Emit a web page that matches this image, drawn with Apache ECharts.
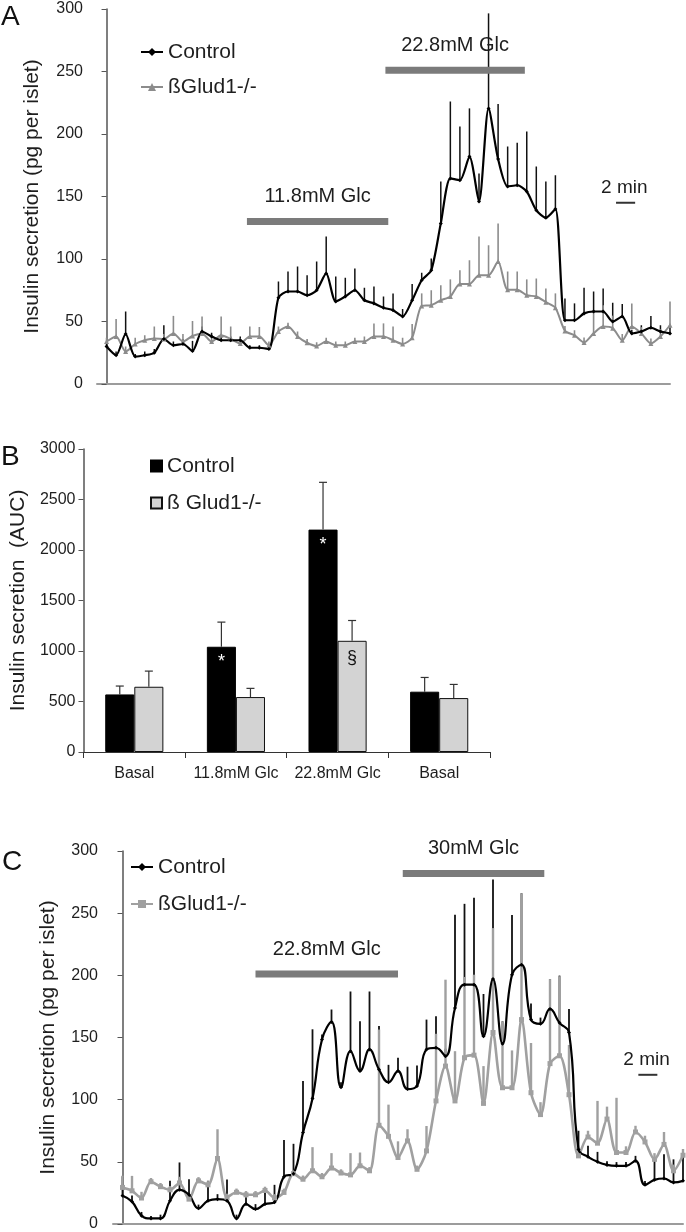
<!DOCTYPE html>
<html><head><meta charset="utf-8">
<script src="https://cdn.jsdelivr.net/npm/echarts@6/dist/echarts.min.js"></script>
<style>html,body{margin:0;padding:0;background:#fff}#c{width:686px;height:1232px}</style>
</head><body><div id="c"></div>
<script>
// ---------- Panel A (time course, 1 point per minute) ----------
const ctrlA = [30,23,40,22,23,25,36,31,32,26.5,42,38,35,35,35,29,29,28,69,74,74,71,75,88.5,66,70,75,67,64.5,61,59,54,67,83,91,128.5,164.5,163,182,146,220.5,180,158,159,154,139,133,140,51,51,56.5,58,58,50,54,40.5,42,45,42,40.5];
const ctrlErrA = [2,3,18,2,3,3,11,3,4,8,4,3,3,3,3,2,2,2,13,16,20,16,23,29.5,20,15,17.5,10,13.5,9,13.5,6,13,6,9.5,33.5,61.5,43,38.5,22.5,76,44,32,34,48,35,29,27,17.5,13.5,20.5,16,18.5,15,10,3,5,9.4,5,5];
const koA = [34,38,26,32,35,36.5,36,40.5,34,38.4,40.5,34,39,36,32.5,38,38,31,42,46,38,33,30.4,34,31,31,34,34,38,38,35,32,37,62.5,63,67,70,80,80,87,87,98,75.5,75.5,71,70,65.5,61,42.5,39,33.3,40.5,46,44.7,35,46,40.5,32.5,38,47];
const koErrA = [3,14,4,5,4,9.5,4,14,6,12,13.5,4,15,10,4,8,7.6,3,4,3,4,3,3,3,3,3,3,4,10.5,10.5,11,5,11,10,12,12,13.7,11,19,31,24,30.5,14.5,14.5,12.7,14.4,11,11.5,4,4,4,18.5,17,10,5,18.5,5,4,6,19];
const stimLabelA = ['11.8mM Glc','22.8mM Glc'];
const stimStartA = [14.7, 29.2];
const stimEndA = [29.5, 43.8];
const stimLevelA = [130, 251];
const scaleBarA = [53.35, 55.35, 145];
const yTicksA = [0, 300, 50];

// ---------- Panel B (AUC) ----------
const catsB = ['Basal','11.8mM Glc','22.8mM Glc','Basal'];
const ctrlAUC = [570, 1042, 2202, 597];
const ctrlAUCErr = [83, 244, 468, 141];
const koAUC = [646, 544, 1101, 534];
const koAUCErr = [155, 86, 201, 135];
const ctrlMark = ['', '*', '*', ''];
const koMark = ['', '', '§', ''];
const yTicksB = [0, 3000, 500];

// ---------- Panel C (time course) ----------
const ctrlC = [22.7,18,6.7,4.5,4.5,18.7,27.5,23.5,12.6,18.7,20,18.7,4.5,16,12,16,17.5,38,40.5,73.5,101,148.4,162.5,110,139,123,140.4,124.3,114,123,108.5,111,140.4,141.7,135,173.8,192.5,192.5,151,197,145,200.5,208.5,164.4,161,173,161.8,154,60,54,50,47.5,46.8,46.8,50.8,31.5,35.5,36.6,33.4,34.7];
const ctrlErrC = [15.6,5,3,2,3,16,22,12.5,3,16,4,17,3,5.6,4,9.4,14,29.6,24,41.5,55.6,4,10,4,48,40,46.6,35,14,10.7,18,16.5,24,25.3,6,75,65,70,34,80,18,48,57.5,13,5,24,38,19,15,9,8,3,3,3,4,3,16.5,19.4,18.6,23];
const koC = [29.4,26.7,20.9,34,30,27.5,33,20,34.7,31.5,52.7,21.4,25.5,23.5,23.5,27,21,25.4,40.5,36,42.8,38,45,41,39.5,46.8,42.8,79.4,70.5,53.5,66.8,44,58.8,99,127,99,133.7,135.8,97,154,109.6,109.6,164.4,105.6,88,129,135.3,104,54.8,70,65,84.4,57.5,57.5,74,66,52,64,42.8,55.3];
const koErrC = [9.4,12,5,3,3,3,5,3,3,3,23.5,3,3,3,3,3,3,3,3,3,19,3,12,3,17.5,10.7,3,77,25.5,13,9.4,3,20,54,69.5,40,65,64.7,30,84,53.4,30,101.6,40,10,68,64,40,5,5,34,10,44,5,5,5,5,10,5,5];
const stimLabelC = ['22.8mM Glc','30mM Glc'];
const stimStartC = [14.0, 29.5];
const stimEndC = [29.0, 44.4];
const stimLevelC = [201, 282];
const scaleBarC = [54.3, 56.3, 120];
const yTicksC = [0, 300, 50];

const FONT = '"Liberation Sans", Arial, sans-serif';
const TXT = '#1e1e1e';
const chart = echarts.init(document.getElementById('c'));

const xy = arr => arr.map((v, i) => [i, v]);
const errData = (m, e) => m.map((v, i) => [i, v, v + e[i]]);

function errSeries(grid, mean, err, color, width) {
  return {
    type: 'custom', xAxisIndex: grid, yAxisIndex: grid, silent: true,
    data: errData(mean, err), encode: {x: 0, y: [1, 2]},
    renderItem: (p, api) => {
      const a = api.coord([api.value(0), api.value(1)]);
      const b = api.coord([api.value(0), api.value(2)]);
      return {type: 'line', shape: {x1: a[0], y1: a[1], x2: b[0], y2: b[1]}, style: {stroke: color, lineWidth: width}};
    }
  };
}
function stimSeries(grid, labels, st, en, lv) {
  return {
    type: 'custom', xAxisIndex: grid, yAxisIndex: grid, silent: true,
    data: st.map((s, i) => [s, en[i], lv[i]]), encode: {x: [0, 1], y: 2},
    renderItem: (p, api) => {
      const s = api.coord([api.value(0), api.value(2)]);
      const e = api.coord([api.value(1), api.value(2)]);
      return {type: 'group', children: [
        {type: 'rect', shape: {x: s[0], y: s[1] - 3.5, width: e[0] - s[0], height: 7}, style: {fill: '#7b7b7b'}},
        {type: 'text', style: {text: labels[p.dataIndex], x: (s[0] + e[0]) / 2, y: s[1] - 25, align: 'center', verticalAlign: 'middle', fontSize: 20, fontFamily: FONT, fill: TXT}}
      ]};
    }
  };
}
function scaleSeries(grid, sb) {
  return {
    type: 'custom', xAxisIndex: grid, yAxisIndex: grid, silent: true,
    data: [sb], encode: {x: [0, 1], y: 2},
    renderItem: (p, api) => {
      const s = api.coord([api.value(0), api.value(2)]);
      const e = api.coord([api.value(1), api.value(2)]);
      return {type: 'group', children: [
        {type: 'line', shape: {x1: s[0], y1: s[1], x2: e[0], y2: e[1]}, style: {stroke: '#333', lineWidth: 2}},
        {type: 'text', style: {text: '2 min', x: s[0] - 15, y: s[1] - 15, align: 'left', verticalAlign: 'middle', fontSize: 19, fontFamily: FONT, fill: TXT}}
      ]};
    }
  };
}
function bErrSeries(mean, err, side) {
  return {
    type: 'custom', xAxisIndex: 1, yAxisIndex: 1, silent: true, z: 5,
    data: errData(mean, err), encode: {x: 0, y: [1, 2]},
    renderItem: (p, api) => {
      const w = api.size([1, 0])[0];
      const a = api.coord([api.value(0), api.value(1)]);
      const b = api.coord([api.value(0), api.value(2)]);
      const x = a[0] + side * 0.143 * w;
      return {type: 'group', children: [
        {type: 'line', shape: {x1: x, y1: a[1], x2: x, y2: b[1]}, style: {stroke: '#333', lineWidth: 1.2}},
        {type: 'line', shape: {x1: x - 4, y1: b[1], x2: x + 4, y2: b[1]}, style: {stroke: '#333', lineWidth: 1.2}}
      ]};
    }
  };
}
function timeX(grid) {
  return {gridIndex: grid, type: 'value', min: -1, max: 59,
    axisLine: {show: true, lineStyle: {color: '#9c9c9c', width: 2}},
    axisTick: {show: false}, axisLabel: {show: false}, splitLine: {show: false}};
}
function valY(grid, t, name, gap, margin, nameSize) {
  return {gridIndex: grid, type: 'value', min: t[0], max: t[1], interval: t[2],
    axisLine: {show: true, lineStyle: {color: '#555', width: 1.5}},
    axisTick: {show: true, length: 5, lineStyle: {color: '#555'}},
    axisLabel: {fontSize: 16, color: TXT, margin: margin, fontFamily: FONT, formatter: v => String(v)},
    splitLine: {show: false},
    name: name, nameLocation: 'middle', nameGap: gap, nameRotate: 90,
    nameTextStyle: {fontSize: nameSize, color: TXT, fontFamily: FONT}};
}
function legendOf(names, left, top, gap, icon, w, h) {
  return {data: names, left: left, top: top, orient: 'vertical', itemGap: gap, padding: 0,
    itemWidth: w, itemHeight: h, icon: icon, selectedMode: false,
    formatter: n => n.slice(2),
    textStyle: {fontSize: 21, color: TXT, fontFamily: FONT, lineHeight: 22}};
}

const option = {
  animation: false,
  backgroundColor: '#fff',
  textStyle: {fontFamily: FONT},
  grid: [
    {left: 97, top: 9, width: 573, height: 375},
    {left: 72, top: 449, width: 418, height: 303},
    {left: 113, top: 851, width: 570, height: 374}
  ],
  xAxis: [
    timeX(0),
    {gridIndex: 1, type: 'category', data: catsB,
      axisLine: {lineStyle: {color: '#333', width: 1.2}},
      axisTick: {show: true, length: 6, lineStyle: {color: '#333'}},
      axisLabel: {fontSize: 16, color: TXT, margin: 14, fontFamily: FONT, interval: 0, hideOverlap: false}},
    timeX(2)
  ],
  yAxis: [
    valY(0, yTicksA, 'Insulin secretion (pg per islet)', 54, 14, 21),
    valY(1, yTicksB, 'Insulin secretion  (AUC)', 44, 8, 21),
    valY(2, yTicksC, 'Insulin secretion (pg per islet)', 54, 15, 21)
  ],
  legend: [
    legendOf(['A:Control', 'A:ßGlud1-/-'], 140, 41, 13, undefined, 22, 10),
    legendOf(['B:Control', 'B:ß Glud1-/-'], 150, 455, 15, 'rect', 11, 11),
    legendOf(['C:Control', 'C:ßGlud1-/-'], 130, 856, 15, undefined, 22, 10)
  ],
  graphic: [
    {type: 'text', left: 1, top: 3, style: {text: 'A', fontSize: 28, fill: '#111', fontFamily: FONT}},
    {type: 'text', left: 1, top: 443, style: {text: 'B', fontSize: 28, fill: '#111', fontFamily: FONT}},
    {type: 'text', left: 2, top: 848, style: {text: 'C', fontSize: 28, fill: '#111', fontFamily: FONT}}
  ],
  series: [
    // Panel A
    errSeries(0, ctrlA, ctrlErrA, '#111', 1.5),
    errSeries(0, koA, koErrA, '#8c8c8c', 1.6),
    {type: 'line', name: 'A:ßGlud1-/-', xAxisIndex: 0, yAxisIndex: 0, data: xy(koA), smooth: 0.25,
      symbol: 'triangle', symbolSize: 5, lineStyle: {color: '#8c8c8c', width: 2}, itemStyle: {color: '#8c8c8c'}},
    {type: 'line', name: 'A:Control', xAxisIndex: 0, yAxisIndex: 0, data: xy(ctrlA), smooth: 0.25,
      symbol: 'diamond', symbolSize: 4, lineStyle: {color: '#000', width: 2.2}, itemStyle: {color: '#000'}},
    stimSeries(0, stimLabelA, stimStartA, stimEndA, stimLevelA),
    scaleSeries(0, scaleBarA),
    // Panel B
    {type: 'bar', name: 'B:Control', xAxisIndex: 1, yAxisIndex: 1, barWidth: '28.6%', barGap: '0%',
      data: ctrlAUC.map((v, i) => ({value: v, label: {show: ctrlMark[i] !== '', formatter: ctrlMark[i]}})),
      itemStyle: {color: '#000', borderColor: '#000', borderWidth: 1},
      label: {position: 'insideTop', distance: 6, color: '#fff', fontSize: 18, fontFamily: FONT}},
    {type: 'bar', name: 'B:ß Glud1-/-', xAxisIndex: 1, yAxisIndex: 1, barWidth: '28.6%', barGap: '0%',
      data: koAUC.map((v, i) => ({value: v, label: {show: koMark[i] !== '', formatter: koMark[i]}})),
      itemStyle: {color: '#d3d3d3', borderColor: '#111', borderWidth: 1},
      label: {position: 'insideTop', distance: 8, color: '#111', fontSize: 18, fontFamily: FONT}},
    bErrSeries(ctrlAUC, ctrlAUCErr, -1),
    bErrSeries(koAUC, koAUCErr, 1),
    // Panel C
    errSeries(2, ctrlC, ctrlErrC, '#111', 1.8),
    errSeries(2, koC, koErrC, '#a0a0a0', 2.4),
    {type: 'line', name: 'C:ßGlud1-/-', xAxisIndex: 2, yAxisIndex: 2, data: xy(koC), smooth: 0.3,
      symbol: 'rect', symbolSize: 5, lineStyle: {color: '#a0a0a0', width: 2.6}, itemStyle: {color: '#a0a0a0'}},
    {type: 'line', name: 'C:Control', xAxisIndex: 2, yAxisIndex: 2, data: xy(ctrlC), smooth: 0.45,
      symbol: 'diamond', symbolSize: 4, lineStyle: {color: '#000', width: 2.2}, itemStyle: {color: '#000'}},
    stimSeries(2, stimLabelC, stimStartC, stimEndC, stimLevelC),
    scaleSeries(2, scaleBarC)
  ]
};
chart.setOption(option);
</script>
</body></html>
